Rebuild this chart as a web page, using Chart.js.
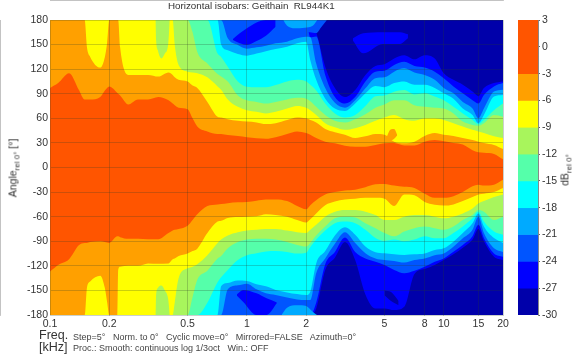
<!DOCTYPE html>
<html>
<head>
<meta charset="utf-8">
<script src="https://cdn.jsdelivr.net/npm/chart.js@4"></script>
<style>
  html, body { margin: 0; padding: 0; background: #fff; }
  body { width: 580px; height: 357px; position: relative; overflow: hidden; font-family: "Liberation Sans", Arial, sans-serif; color: #333; }
  canvas { position: absolute; top: 0; }
  .txt { position: absolute; white-space: pre; }
  .rot { transform: translate(-50%, -50%) rotate(-90deg); }
  sub { font-size: 8px; }
</style>
</head>
<body>
<canvas id="plot" width="580" height="357" style="left:0"></canvas>
<canvas id="bar" width="70" height="357" style="left:510px"></canvas>
<div class="txt" style="left:168px;top:0px;font-size:9.8px">Horizontal isobars: Geithain  RL944K1</div>
<div class="txt rot" style="left:14px;top:168px;font-size:10.5px;font-weight:normal">Angle<sub>rel 0°</sub> [°]</div>
<div class="txt rot" style="left:566px;top:170px;font-size:10.5px">dB<sub>rel 0°</sub></div>
<div class="txt" style="left:39px;top:328px;font-size:12.5px">Freq.</div>
<div class="txt" style="left:39px;top:340px;font-size:12.5px">[kHz]</div>
<div class="txt" style="left:73px;top:332px;font-size:9px;color:#444">Step=5°   Norm. to 0°   Cyclic move=0°   Mirrored=FALSE   Azimuth=0°</div>
<div class="txt" style="left:73px;top:343px;font-size:9px;color:#444">Proc.: Smooth: continuous log 1/3oct   Win.: OFF</div>
<script>
// frequency grid [kHz], 59 points
const freq = [
  0.1,0.11,0.125,0.14,0.15,0.154,0.16,0.18,0.19,0.195,
  0.2,0.22,0.222,0.227,0.25,0.28,0.315,0.355,0.4,0.42,
  0.43,0.45,0.5,0.53,0.56,0.63,0.71,0.74,0.8,0.9,
  1,1.12,1.25,1.4,1.6,1.8,2,2.1,2.25,2.5,
  2.8,3.15,3.55,4,4.5,5,5.6,6.3,7.1,8,
  9,10,11.2,12.5,14,15,16,18,20];

const freqTicks = [0.1,0.2,0.5,1,2,5,8,10,15,20];
const bandEdges = [3,-3,-6,-9,-12,-15,-18,-21,-24,-27,-30];
const bandColors = ['#ff5500','#ffa000','#ffff00','#a8f55c','#55ffaa','#00ffff','#00aaff','#0055ff','#0000ff','#0000aa'];

// upper contour of each level, angle in degrees
const topM3 = [
  97,103,115,95,83,83,83,86,94,97,
  99,91,90,88,77,83,83,86,82,78,
  76,73,71,60,50,44,41,41,39.6,38.4,
  37,35.6,35,37,41,44,42,40,36,31.5,
  29.5,26.6,25.4,25.4,27.4,29.5,30,27,27,31.5,
  33.5,32,30,28,21,18.5,18,16.5,10];
const topM6 = [
  180,180,180,180,180,147,135,122,135,152,
  180,180,180,147,113,113,113,111,116,113,
  110,107,105,100,97,80,62,61,59,57,
  56,55,53,54,58,61,60,58,55,47,
  43,40,36,38,41,40,31.5,29.5,31.5,38.5,
  42,40,38.5,36,33.5,31.5,30,27.5,22.5];
const topM9 = [
  180,180,180,180,180,180,180,180,180,180,
  180,180,180,180,180,180,180,180,180,180,
  150,125,117,116,115,110,99,95,83,74,
  70,68,66,68,72,75,73,70,64,54,
  49,46,48,52,57,61,64,59,57,60,
  60,58,54,50,46,44,42,38,36];
const topM12 = [
  180,180,180,180,180,180,180,180,180,180,
  180,180,180,180,180,180,180,180,180,180,
  180,180,180,165,141,127,114,111,105,88,
  82,80,78,80,83,85,84,81,74,64,
  57,55,59,65,73,77,82,82,76,74,
  73,72,66,56,52,51,54,64,62];
const topM15 = [
  180,180,180,180,180,180,180,180,180,180,
  180,180,180,180,180,180,180,180,180,180,
  180,180,180,180,180,180,139,135,123,105,
  98.6,98,98,100.7,105,107,105,101,94,78,
  66,61,64,75,87,88,92.5,94.5,89,90.5,
  86.5,82,74,66,58,53,58,70,78];
const topM18 = [
  180,180,180,180,180,180,180,180,180,180,
  180,180,180,180,180,180,180,180,180,180,
  180,180,180,180,180,180,180,150,143,138.5,
  136.5,139,142,144.6,147.5,151.5,153.6,131,107,84,
  72,69,78,90.5,99.5,98,103,105,101,101,
  97,90.5,84,72,64,54,64,86.5,88.5];
const topM21 = [
  180,180,180,180,180,180,180,180,180,180,
  180,180,180,180,180,180,180,180,180,180,
  180,180,180,180,180,180,180,180,157.6,149.5,
  145,146.6,148.7,151.5,153.6,157.6,159.6,159,127,97,
  79,73,82,96.6,109,110,117,121,116,113,
  107,97,90.5,80,72,60,72,92.6,95];
const topM24 = [
  180,180,180,180,180,180,180,180,180,180,
  180,180,180,180,180,180,180,180,180,180,
  180,180,180,180,180,180,180,180,180,180,
  180,180,180,180,180,180,180,159,160,113,
  86,78,86,105,117,118,125,129,124,122,
  117,109,99,90.5,82,78,88.5,99,103];
const topM27 = [
  180,180,180,180,180,180,180,180,180,180,
  180,180,180,180,180,180,180,180,180,180,
  180,180,180,180,180,180,180,180,180,180,
  180,180,180,180,180,180,180,180,165,123,
  97,86,94.6,113,124,126,133,137,132,137,
  133,115,107,101,92.6,87,97,103,105];

// lower contour of each level
const botM3 = [
  -127,-119,-112,-95,-92,-92,-91,-90,-91,-91.5,
  -92,-84,-84,-85,-87,-87,-87.5,-87.5,-80,-77,
  -76,-75,-71,-64,-57,-47,-45,-44.5,-43.5,-42.5,
  -42,-40.5,-39,-39,-41,-47,-51,-46,-40,-33,
  -30,-28,-27,-24,-20.5,-20,-22,-23.5,-25,-32,
  -37,-37,-35,-30,-23,-21,-22,-21,-15];
const botM6 = [
  -180,-180,-180,-180,-180,-147,-139,-132,-147,-164,
  -180,-180,-125,-121,-120,-120,-117,-117.5,-117,-112,
  -111,-108,-105,-102,-99,-80,-66,-65,-61.5,-60.5,
  -60,-59.5,-57,-58,-60,-64,-67,-63,-56,-46,
  -41.5,-39,-38,-37,-37,-38,-47,-33,-34,-42,
  -45.5,-46.5,-45,-41,-36,-33,-32,-30,-25];
const botM9 = [
  -180,-180,-180,-180,-180,-180,-180,-180,-180,-180,
  -180,-180,-180,-180,-180,-180,-180,-180,-180,-180,
  -165,-135,-123,-121,-118,-107,-92,-88,-83,-79,
  -77,-76,-75,-75,-77,-79,-80,-76,-70,-60,
  -54,-52,-52,-54,-58,-64,-64,-60,-58,-58,
  -60,-62,-60,-56,-50,-44,-41,-36,-33];
const botM12 = [
  -180,-180,-180,-180,-180,-180,-180,-180,-180,-180,
  -180,-180,-180,-180,-180,-180,-180,-180,-180,-180,
  -180,-180,-180,-158,-137,-126,-111,-108,-98.5,-91,
  -88,-87,-87,-88,-91,-94.5,-96.5,-92,-83,-72,
  -62,-60,-61,-68,-74,-80,-84,-78,-74,-72,
  -74,-76,-72,-64,-58,-52,-54,-64,-60];
const botM15 = [
  -180,-180,-180,-180,-180,-180,-180,-180,-180,-180,
  -180,-180,-180,-180,-180,-180,-180,-180,-180,-180,
  -180,-180,-180,-180,-180,-165,-140,-134,-125,-113,
  -107,-104.6,-102.6,-102,-103,-105,-104,-97,-88,-77,
  -68,-66,-68,-76,-86,-89.6,-88,-90,-88,-84,
  -86.4,-86.4,-80,-72,-62,-54,-66,-78,-82];
const botM18 = [
  -180,-180,-180,-180,-180,-180,-180,-180,-180,-180,
  -180,-180,-180,-180,-180,-180,-180,-180,-180,-180,
  -180,-180,-180,-180,-180,-180,-180,-145,-141,-138,
  -138.5,-142.6,-145,-149.5,-152.4,-154.4,-155.6,-151.5,-117,-102,
  -83,-73,-82,-96.5,-103.4,-104.7,-105.9,-106.7,-106,-105,
  -100.6,-98.6,-90.5,-80,-68,-56,-72,-86,-92];
const botM21 = [
  -180,-180,-180,-180,-180,-180,-180,-180,-180,-180,
  -180,-180,-180,-180,-180,-180,-180,-180,-180,-180,
  -180,-180,-180,-180,-180,-180,-180,-180,-148.7,-143.8,
  -141.8,-148.7,-153.6,-155.6,-158.5,-161,-161.7,-161.7,-129,-111,
  -93,-79,-92,-104.6,-111,-113,-114,-116,-113,-111,
  -107,-105,-96.6,-86.4,-76,-60,-80,-98.6,-103];
const botM24 = [
  -180,-180,-180,-180,-180,-180,-180,-180,-180,-180,
  -180,-180,-180,-180,-180,-180,-180,-180,-180,-180,
  -180,-180,-180,-180,-180,-180,-180,-180,-180,-180,
  -180,-180,-180,-180,-180,-180,-180,-180,-165,-118,
  -103,-85.5,-103,-111,-115,-119,-125,-129,-126,-121,
  -115,-111,-102.7,-94.5,-84,-70,-86.4,-105,-109];
const botM27 = [
  -180,-180,-180,-180,-180,-180,-180,-180,-180,-180,
  -180,-180,-180,-180,-180,-180,-180,-180,-180,-180,
  -180,-180,-180,-180,-180,-180,-180,-180,-180,-180,
  -180,-180,-180,-180,-180,-180,-180,-180,-172,-125,
  -110,-91,-113,-155,-172,-172,-174,-170,-130,-124,
  -119,-113,-106,-98,-88,-75,-90,-109,-113];

// closed islands and tongues the single valued contours can not follow
const blobUpF = [0.85,0.92,1,1.12,1.25,1.4];
const blobUpT = [156.8,163.7,169.8,177,180,180];
const blobUpB = [155.6,151.5,149.5,154.4,160.9,171.9];
const blobLoF = [0.891,0.956,1.12,1.26,1.42];
const blobLoT = [-154.8,-149.5,-153.6,-159.7,-164.6];
const blobLoB = [-156.4,-163.8,-180,-180,-165.8];
const navyUpF = [3.46,3.9,4.9,6,6.58];
const navyUpT = [157.6,163.7,165,165,162.5];
const navyUpB = [154.8,139.3,150.7,150.7,157.6];
const capBlueF = [2,2.09,2.25,2.38,2.55];
const capBlueA = [165,165,164,171,180];
const capSkyF = [1.53,1.6,1.75,1.97,2.16,2.28];
const capSkyA = [180,173,170,170.6,173,180];
const floorSkyF = [1.5,1.6,1.8,2,2.16,2.27];
const floorSkyA = [-180,-171,-168,-169,-176,-180];
const tongueUpF = [0.343,0.346,0.353,0.368,0.383,0.398,0.406];
const tongueUpA = [180,155,143,133,139,149.5,180];
const tongueLoF = [0.343,0.346,0.353,0.368,0.383,0.398,0.406];
const tongueLoA = [-180,-155,-147,-144,-150,-160,-180];
const dotF = [5.15,5.35,5.6,5.8];
const dotT = [38,46,47,40];
const dotB = [37,33,35,39];
const deepLoF = [5,5.4,5.9];
const deepLoT = [-150,-152,-163];
const deepLoB = [-156,-163,-168];

function pts(xs, ys) { return xs.map((x, i) => ({ x: x, y: ys[i] })); }

const layers = [];
function addCurve(xs, ys, color, fill) {
  layers.push({ data: pts(xs, ys), backgroundColor: color, fill: fill });
}
function addIsland(xs, upper, lower, color) {
  // the fill runs from this dataset to the next one
  layers.push({ data: pts(xs, upper), backgroundColor: color, fill: '+1' });
  layers.push({ data: pts(xs, lower), backgroundColor: color, fill: false });
}

const topCurves = [topM27, topM24, topM21, topM18, topM15, topM12, topM9, topM6, topM3];
const botCurves = [botM27, botM24, botM21, botM18, botM15, botM12, botM9, botM6, botM3];

// darkest band goes first, each lighter one paints over it
addCurve([0.1, 20], [180, 180], bandColors[9], { value: -180 });
topCurves.forEach((c, i) => {
  addCurve(freq, c, bandColors[8 - i], { value: -1 });
  addCurve(freq, botCurves[i], bandColors[8 - i], { value: 1 });
});
addCurve(capBlueF, capBlueA, bandColors[7], { value: 180 });
addCurve(capSkyF, capSkyA, bandColors[6], { value: 180 });
addCurve(floorSkyF, floorSkyA, bandColors[6], { value: -180 });
addIsland(blobUpF, blobUpT, blobUpB, bandColors[8]);
addIsland(blobLoF, blobLoT, blobLoB, bandColors[8]);
addIsland(navyUpF, navyUpT, navyUpB, bandColors[8]);
addIsland(deepLoF, deepLoT, deepLoB, bandColors[9]);
addCurve(tongueUpF, tongueUpA, bandColors[3], { value: 180 });
addCurve(tongueLoF, tongueLoA, bandColors[3], { value: -180 });
addIsland(dotF, dotT, dotB, bandColors[1]);

layers.forEach((l, i) => {
  l.order = layers.length - i;
  l.showLine = true;
  l.borderWidth = 0;
  l.pointRadius = 0;
  l.cubicInterpolationMode = 'monotone';
});

const tickFont = { family: '"Liberation Sans", Arial, sans-serif', size: 10.5 };

new Chart(document.getElementById('plot'), {
  type: 'scatter',
  data: { datasets: layers },
  options: {
    responsive: false,
    animation: false,
    layout: { padding: { left: 0, top: 20, right: 77, bottom: 0 } },
    plugins: { legend: { display: false }, tooltip: { enabled: false } },
    scales: {
      x: {
        type: 'logarithmic', min: 0.1, max: 20,
        afterBuildTicks: s => { s.ticks = freqTicks.map(v => ({ value: v })); },
        afterFit: s => { s.height = 42; },
        ticks: { autoSkip: false, maxRotation: 0, padding: 3, color: '#333', font: tickFont, callback: v => String(v) },
        grid: { color: 'rgba(40,60,40,0.35)', lineWidth: 0.7, z: 1, tickLength: 0 },
        border: { color: '#888' }
      },
      y: {
        min: -180, max: 180,
        afterFit: s => { s.width = 50; },
        ticks: { stepSize: 30, padding: 2, color: '#333', font: tickFont },
        grid: { color: 'rgba(40,60,40,0.35)', lineWidth: 0.7, z: 1, tickLength: 0 },
        border: { color: '#888' }
      }
    }
  }
});

// colour bar, one floating bar per band
new Chart(document.getElementById('bar'), {
  type: 'bar',
  data: {
    labels: ['dB'],
    datasets: bandColors.map((c, i) => ({
      data: [[bandEdges[i + 1], bandEdges[i]]],
      backgroundColor: c, barPercentage: 1, categoryPercentage: 1, grouped: false
    }))
  },
  options: {
    responsive: false,
    animation: false,
    layout: { padding: { left: 8, top: 20, right: 0, bottom: 42 } },
    plugins: { legend: { display: false }, tooltip: { enabled: false } },
    scales: {
      x: { display: false },
      y: {
        position: 'right', min: -30, max: 3,
        afterFit: s => { s.width = 42; },
        ticks: { stepSize: 3, padding: 2, color: '#333', font: tickFont },
        grid: { drawOnChartArea: false, tickLength: 2, color: '#666' },
        border: { color: '#888' }
      }
    }
  }
});
</script>
</body>
</html>
